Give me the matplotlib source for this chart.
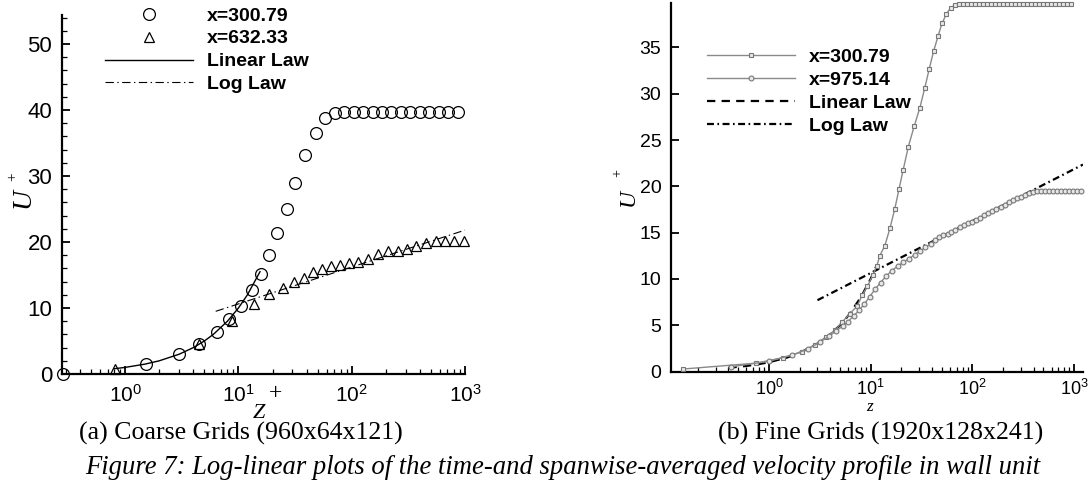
import numpy as np
import matplotlib.pyplot as plt

plt.rcParams['font.family'] = 'Liberation Sans'
plt.rcParams['mathtext.fontset'] = 'custom'
plt.rcParams['mathtext.rm'] = 'Liberation Sans'
plt.rcParams['mathtext.it'] = 'Liberation Sans:italic'
plt.rcParams['lines.scale_dashes'] = False

W, H = 1091, 491

# ---- (a) coarse grids ----
za_300 = [0.28, 1.53, 3.0, 4.5, 6.5, 8.3, 10.6, 13.3, 15.7, 18.8, 22.1, 26.6, 31.7, 38.9, 47.9, 57.6,
          70.7, 85.7, 103.9, 125.9, 152.6, 185, 224, 272, 329, 399, 484, 586, 711, 861]
ua_300 = [0, 1.5, 3.0, 4.6, 6.4, 8.3, 10.3, 12.7, 15.1, 18.0, 21.3, 25.0, 28.9, 33.2, 36.5, 38.8,
          39.5] + [39.7] * 13
za_632 = [0.82, 4.5, 8.8, 13.6, 18.5, 24.9, 30.9, 37.8, 45.5, 54.3, 65.2, 78.8, 94.7, 114.5, 139,
          172, 207, 254, 307, 373, 452, 553, 665, 804, 972]
ua_632 = [0.8, 4.6, 8.0, 10.6, 12.1, 13.1, 14.0, 14.6, 15.4, 15.9, 16.3, 16.5, 16.8, 16.9, 17.4,
          18.2, 18.7, 18.7, 18.9, 19.4, 19.8, 20.2, 20.2, 20.2, 20.2]
za_lin = [0.8, 1, 1.5, 2, 3, 4, 5, 6, 8, 10, 12, 15.5]
ua_lin = [0.8, 1, 1.5, 2, 3, 4, 5, 6, 8, 10, 12, 15.5]
za_log = [6.3, 1000]
ua_log = [9.5, 21.8]

# ---- (b) fine grids ----
zb_300 = [0.144, 0.745, 1.38, 2.1, 2.83, 3.6, 4.5, 5.2, 6.2, 7.4, 8.3, 9.3, 10.5, 11.5, 12.3, 13.8,
          15.5, 17.3, 19.0, 20.9, 23.5, 26.8, 30.5, 34.0, 37.7, 41.6, 45.9, 50.3, 55.4, 61.2, 67.5,
          74, 81, 88, 97, 106, 116, 127, 139, 152, 167, 182, 200, 219, 239, 262, 287, 314, 344,
          376, 412, 451, 494, 541, 592, 648, 710, 777, 851, 932]
ub_300 = [0.27, 0.9, 1.5, 2.1, 2.9, 3.7, 4.5, 5.3, 6.2, 7.1, 8.3, 9.2, 10.4, 11.4, 12.5, 13.6,
          15.5, 17.6, 19.7, 21.8, 24.3, 26.5, 28.5, 30.6, 32.7, 34.6, 36.2, 37.6, 38.6, 39.3, 39.6] + [39.7] * 29
zb_975 = [0.42, 1.0, 1.7, 2.4, 3.2, 3.9, 4.6, 5.3, 6.0, 6.8, 7.7, 8.7, 9.8, 11.1, 12.5, 14.2, 16.2,
          18.5, 21, 23.8, 27, 30.5, 34.5, 39, 43, 47, 52, 57, 62, 68, 75, 82, 90, 99, 108, 119, 130,
          143, 157, 172, 189, 207, 227, 249, 273, 300, 329, 361, 396, 430, 470, 515, 565, 620, 680,
          745, 815, 895, 980, 1075, 1180]
ub_975 = [0.5, 1.1, 1.8, 2.4, 3.2, 3.8, 4.4, 4.9, 5.4, 6.0, 6.6, 7.3, 8.1, 8.9, 9.6, 10.3, 10.9,
          11.4, 11.8, 12.2, 12.6, 13.0, 13.4, 13.8, 14.2, 14.5, 14.7, 14.9, 15.1, 15.3, 15.6, 15.8,
          16.0, 16.2, 16.4, 16.6, 16.9, 17.1, 17.3, 17.6, 17.8, 18.0, 18.3, 18.5, 18.7, 18.9, 19.1,
          19.3, 19.4, 19.5] + [19.5] * 11
zb_lin = [0.4, 0.6, 0.8, 1, 1.5, 2, 3, 4, 5, 6, 8, 10, 11.5]
ub_lin = [0.4, 0.6, 0.8, 1, 1.5, 2, 3, 4, 5, 6, 8, 10, 11.5]
zb_log = [3.0, 1223]
ub_log = [7.7, 22.35]


def box(x0, y0, x1, y1):
    return [x0 / W, 1 - y1 / H, (x1 - x0) / W, (y1 - y0) / H]


fig = plt.figure(figsize=(W / 100, H / 100), dpi=100)

# left panel
ax1 = fig.add_axes(box(62, 15, 465, 374))
ax1.plot(za_lin, ua_lin, color='k', lw=1.0, label='Linear Law', zorder=2)
ax1.plot(za_log, ua_log, color='k', lw=0.8, dashes=(6, 2.5, 1, 2.5), label='Log Law', zorder=2)
ax1.plot(za_300, ua_300, ls='none', marker='o', ms=8.5, mfc='none', mec='k', mew=0.9,
         label='x=300.79', clip_on=False, zorder=3)
ax1.plot(za_632, ua_632, ls='none', marker='^', ms=7.5, mfc='none', mec='k', mew=0.9,
         label='x=632.33', clip_on=False, zorder=3)
ax1.set_xscale('log')
ax1.set_xlim(0.277, 1000)
ax1.set_ylim(0, 54.4)
ax1.set_yticks(np.arange(0, 51, 10))
ax1.set_yticks(np.arange(0, 55, 2), minor=True)
h, l = ax1.get_legend_handles_labels()
order = [2, 3, 0, 1]
ax1.legend([h[i] for i in order], [l[i] for i in order], loc='upper left',
           bbox_to_anchor=(105 / W, 1 - 7 / H), bbox_transform=fig.transFigure,
           frameon=False, borderpad=0, borderaxespad=0, handlelength=4.5, handletextpad=0.75,
           labelspacing=0.27, numpoints=1, prop={'family': 'Liberation Sans', 'weight': 'bold', 'size': 14})

# right panel
ax2 = fig.add_axes(box(671, 3, 1083, 371.5))
ax2.plot(zb_300, ub_300, color='#8a8a8a', lw=1.0, marker='s', ms=3.2, mfc='#e8e8e8', mec='#777777',
         mew=0.8, label='x=300.79', clip_on=False, zorder=3)
ax2.plot(zb_975, ub_975, color='#8a8a8a', lw=1.0, marker='o', ms=3.5, mfc='#e8e8e8', mec='#777777',
         mew=0.8, label='x=975.14', clip_on=False, zorder=3)
ax2.plot(zb_lin, ub_lin, color='k', lw=1.6, dashes=(6, 4.5), label='Linear Law', zorder=2)
ax2.plot(zb_log, ub_log, color='k', lw=1.6, dashes=(5, 2.5, 1.2, 2.5), label='Log Law', zorder=2)
ax2.set_xscale('log')
ax2.set_xlim(0.109, 1223)
ax2.set_ylim(0, 39.8)
ax2.set_yticks(np.arange(0, 36, 5))
ax2.yaxis.set_minor_locator(plt.NullLocator())
ax2.legend(loc='upper left', bbox_to_anchor=(707 / W, 1 - 48 / H), bbox_transform=fig.transFigure,
           frameon=False, borderpad=0, borderaxespad=0, handlelength=4.5, handletextpad=0.75,
           labelspacing=0.28, numpoints=1, prop={'family': 'Liberation Sans', 'weight': 'bold', 'size': 14})

for ax, xs, ys in [(ax1, 15, 16), (ax2, 13, 14)]:
    for s in ['top', 'right']:
        ax.spines[s].set_visible(False)
    for s in ['left', 'bottom']:
        ax.spines[s].set_linewidth(1.6)
    ax.tick_params(which='major', direction='in', length=6, width=1.3, pad=7)
    ax.tick_params(which='minor', direction='in', length=3.5, width=0.9)
    ax.tick_params(axis='x', labelsize=xs)
    ax.tick_params(axis='y', labelsize=ys)
ax2.tick_params(axis='x', pad=5)

# axis labels
serif = 'Liberation Serif'
fig.text(23 / W, 1 - 198 / H, 'U', family=serif, style='italic', size=20, rotation=90,
         ha='center', va='center')
fig.text(13 / W, 1 - 177 / H, '+', family=serif, size=11, rotation=90, ha='center', va='center')
fig.text(628 / W, 1 - 197 / H, 'U', family=serif, style='italic', size=17, rotation=90,
         ha='center', va='center')
fig.text(618 / W, 1 - 173 / H, '+', family=serif, size=10, rotation=90, ha='center', va='center')
fig.text(259 / W, 1 - 413 / H, 'Z', family=serif, style='italic', size=16, ha='center', va='center')
fig.text(276 / W, 1 - 394 / H, '+', family=serif, size=17, ha='center', va='center')
fig.text(870 / W, 1 - 407 / H, 'z', family=serif, style='italic', size=12.5, ha='center', va='center')

# captions
fig.text(241 / W, 1 - 433 / H, '(a) Coarse Grids (960x64x121)', family=serif, size=18.6,
         ha='center', va='center')
fig.text(881 / W, 1 - 433 / H, '(b) Fine Grids (1920x128x241)', family=serif, size=18.6,
         ha='center', va='center')
fig.text(563 / W, 1 - 467 / H,
         'Figure 7: Log-linear plots of the time-and spanwise-averaged velocity profile in wall unit',
         family=serif, style='italic', size=19.2, ha='center', va='center')

fig.savefig('out.png', dpi=100)
